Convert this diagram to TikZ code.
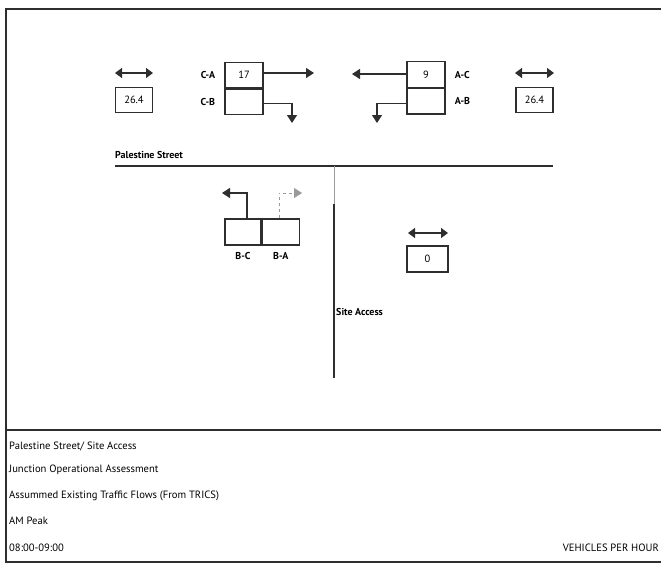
\documentclass[tikz,border=0pt]{standalone}
\usepackage{fontspec}
\setmainfont{PT Sans}
\usetikzlibrary{arrows.meta,positioning}
\definecolor{inkgray}{HTML}{2E2E2E}
\definecolor{faintgray}{HTML}{9A9A9A}
\tikzset{
  cell/.style={draw=inkgray,line width=1.3pt,minimum width=38pt,minimum height=25.5pt,inner sep=0pt,
    font=\fontsize{10.5}{12}\selectfont},
  armtag/.style={font=\fontsize{10}{11}\selectfont\bfseries,inner sep=1pt},
  roadtag/.style={font=\fontsize{10}{12}\selectfont\bfseries,inner sep=0pt,anchor=west},
  foot/.style={font=\fontsize{10.6}{12}\selectfont,inner sep=0pt},
  move/.style={-{Triangle[length=8pt,width=10pt]},line width=1.2pt,draw=inkgray},
  twoway/.style={{Triangle[length=7pt,width=10pt]}-{Triangle[length=7pt,width=10pt]},line width=1.2pt,draw=inkgray}
}
\begin{document}
\begin{tikzpicture}[x=1pt,y=-1pt,node distance=4pt and 8pt]
  \useasboundingbox (0,0) rectangle (661,563);
  % frame and footer
  \draw[inkgray,line width=1.6pt] (661,9) -- (6,9) -- (6,562) -- (661,562);
  \draw[inkgray,line width=1.6pt] (6,430) -- (661,430);
  \node[foot,anchor=west] (title) at (9,446) {Palestine Street/ Site Access};
  \node[foot,anchor=west] (assess) at (9,470) {Junction Operational Assessment};
  \node[foot,anchor=west] (flows) at (9,496) {Assummed Existing Traffic Flows (From TRICS)};
  \node[foot,anchor=west] (peak) at (9,521) {AM Peak};
  \node[foot,anchor=west] (hour) at (9,548) {08:00-09:00};
  \node[foot,anchor=east] (units) at (659,548) {VEHICLES PER HOUR};

  % major road
  \node[roadtag] (street) at (115,155) {Palestine Street};
  \coordinate (roadW) at (115,166);
  \coordinate (roadE) at (553,166);
  \coordinate (accTop) at (334,166);
  \coordinate (accMid) at (334,204);
  \coordinate (accEnd) at (334,378);
  \draw[inkgray,line width=1.3pt] (roadW) -- (roadE);
  \draw[faintgray,thick] (accTop) -- (accMid);
  \draw[inkgray,line width=1.5pt] (accMid) -- (accEnd);
  \node[roadtag] (access) at (336,312) {Site Access};

  % arm C (west)
  \node[cell] (cA) at (244,75) {17};
  \node[cell,below=0pt of cA] (cB) {};
  \node[armtag,left=8pt of cA] (tagCA) {C-A};
  \node[armtag,left=8pt of cB] (tagCB) {C-B};
  \coordinate (caEnd) at (314,73);
  \coordinate (cbEnd) at (292,123);
  \draw[move] (cA.east |- caEnd) -- (caEnd);
  \draw[move] ([yshift=-2pt]cB.east) -| (cbEnd);
  \node[cell,minimum width=37pt] (capW) at (134,100) {26.4};
  \coordinate (capWl) at (115,73);
  \coordinate (capWr) at (153,73);
  \draw[twoway] (capWl) -- (capWr);

  % arm A (east)
  \node[cell] (aC) at (426,74.5) {9};
  \node[cell,below=0pt of aC] (aB) {};
  \node[armtag,right=8pt of aC] (tagAC) {A-C};
  \node[armtag,right=8pt of aB] (tagAB) {A-B};
  \coordinate (acEnd) at (352,74);
  \coordinate (abEnd) at (377,123);
  \draw[move] (aC.west |- acEnd) -- (acEnd);
  \draw[move] ([yshift=-2pt]aB.west) -| (abEnd);
  \node[cell,minimum width=37pt] (capE) at (534.5,100) {26.4};
  \coordinate (capEl) at (515,73);
  \coordinate (capEr) at (554,73);
  \draw[twoway] (capEl) -- (capEr);

  % arm B (minor road)
  \node[cell,minimum width=36pt,minimum height=26pt] (bC) at (243,232) {};
  \node[cell,minimum width=37pt,minimum height=26pt,right=0pt of bC] (bA) {};
  \node[armtag,below=6pt of bC] (tagBC) {B-C};
  \node[armtag,below=6pt of bA] (tagBA) {B-A};
  \coordinate (bcEnd) at (222,193);
  \coordinate (baEnd) at (302,193);
  \draw[move] ([xshift=4pt]bC.north) |- (bcEnd);
  \draw[move,draw=faintgray,dashed,thin] ([xshift=-2pt]bA.north) |- (baEnd);

  % site access capacity
  \node[cell,minimum width=41pt,minimum height=26pt] (capS) at (427.5,259) {0};
  \coordinate (capSl) at (408,233);
  \coordinate (capSr) at (448,233);
  \draw[twoway] (capSl) -- (capSr);
\end{tikzpicture}
\end{document}
